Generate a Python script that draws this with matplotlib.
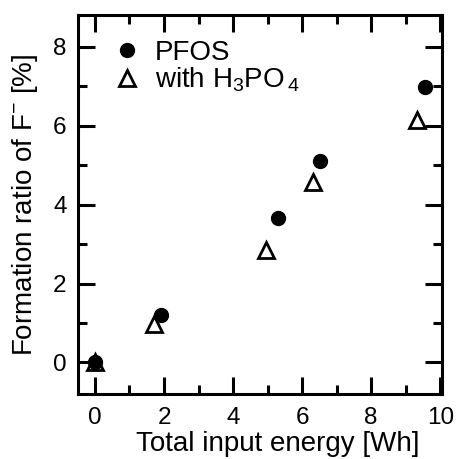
import matplotlib
matplotlib.use("Agg")
import matplotlib.pyplot as plt
from matplotlib.ticker import MultipleLocator

plt.rcParams["font.family"] = ["Liberation Sans", "DejaVu Sans"]
plt.rcParams["mathtext.fontset"] = "custom"
plt.rcParams["mathtext.rm"] = "Liberation Sans"
plt.rcParams["mathtext.it"] = "Liberation Sans:italic"
plt.rcParams["mathtext.default"] = "rm"

# PFOS only
pfos_x = [0.0, 1.92, 5.31, 6.53, 9.57]
pfos_y = [0.02, 1.2, 3.67, 5.1, 6.98]
# with H3PO4
acid_x = [0.0, 1.72, 4.95, 6.33, 9.33]
acid_y = [0.0, 0.97, 2.84, 4.57, 6.14]

fig = plt.figure(figsize=(4.57, 4.59), dpi=100)
ax = fig.add_axes([0.170, 0.1416, 0.797, 0.8254])

ax.plot(pfos_x, pfos_y, "o", ms=10, color="black", zorder=3, label="PFOS")
ax.plot(acid_x, acid_y, "^", ms=11, mfc="white", mec="black", mew=2, zorder=2,
        label=r"with H$_3$PO$_{\,4}$")

ax.set_xlim(-0.5, 10.05)
ax.set_ylim(-0.8, 8.8)
ax.xaxis.set_major_locator(MultipleLocator(2))
ax.xaxis.set_minor_locator(MultipleLocator(1))
ax.yaxis.set_major_locator(MultipleLocator(2))
ax.yaxis.set_minor_locator(MultipleLocator(1))
ax.tick_params(which="both", direction="in", top=True, right=True, width=2.2,
               labelsize=17.5)
ax.tick_params(axis="x", pad=9)
ax.tick_params(axis="y", pad=8)
ax.tick_params(which="major", length=12)
ax.tick_params(which="minor", length=6.5)
for s in ax.spines.values():
    s.set_linewidth(2.2)

ax.set_xlabel("Total input energy [Wh]", fontsize=20)
ax.xaxis.set_label_coords(0.55, -0.098)
ax.set_ylabel(r"Formation ratio of F$^{-}$ [%]", fontsize=20, labelpad=9)

ax.legend(loc="upper left", bbox_to_anchor=(0.06, 0.965), frameon=False, fontsize=20,
          handletextpad=0.4, labelspacing=0.0, borderaxespad=0, handlelength=1.2)

fig.savefig("out.png", dpi=100)
